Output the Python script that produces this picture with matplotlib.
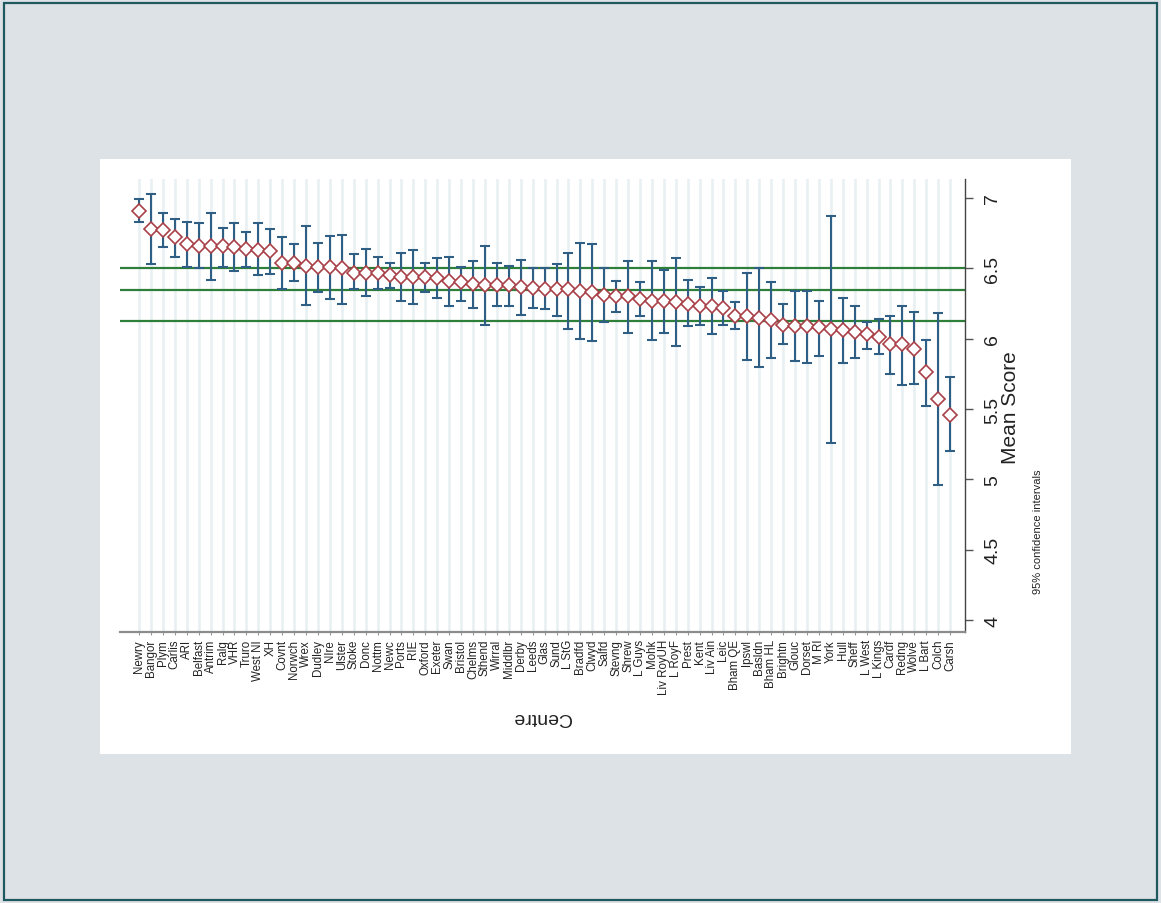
import numpy as np
import matplotlib
matplotlib.use("Agg")
import matplotlib.pyplot as plt
from matplotlib.patches import Rectangle

plt.rcParams['font.family'] = ['Liberation Sans', 'DejaVu Sans']

# centres, ordered by mean score
centres = ["Newry", "Bangor", "Plym", "Carlis", "ARI", "Belfast", "Antrim", "Ralg", "VHR", "Truro",
           "West NI", "XH", "Covnt", "Norwch", "Wrex", "Dudley", "NIre", "Ulster", "Stoke", "Donc",
           "Nottm", "Newc", "Ports", "RIE", "Oxford", "Exeter", "Swan", "Bristol", "Chelms", "Sthend",
           "Wirral", "Middlbr", "Derby", "Leeds", "Glas", "Sund", "L StG", "Bradfd", "Clwyd", "Salfd",
           "Stevng", "Shrew", "L Guys", "Mohk", "Liv RoyUH", "L RoyF", "Prest", "Kent", "Liv Ain", "Leic",
           "Bham QE", "Ipswl", "Basldn", "Bham HL", "Brightn", "Glouc", "Dorset", "M RI", "York", "Hull",
           "Sheff", "L West", "L Kings", "Cardf", "Redng", "Wolve", "L Bart", "Colch", "Carsh"]

mean_score = [6.91, 6.78, 6.77, 6.72, 6.67, 6.66, 6.66, 6.66, 6.65, 6.64,
              6.63, 6.62, 6.54, 6.54, 6.52, 6.51, 6.51, 6.50, 6.47, 6.47,
              6.47, 6.45, 6.44, 6.44, 6.44, 6.43, 6.41, 6.40, 6.39, 6.38,
              6.38, 6.38, 6.37, 6.36, 6.35, 6.35, 6.35, 6.34, 6.33, 6.31,
              6.30, 6.30, 6.28, 6.27, 6.27, 6.26, 6.25, 6.23, 6.23, 6.22,
              6.16, 6.16, 6.15, 6.13, 6.10, 6.09, 6.09, 6.08, 6.07, 6.06,
              6.05, 6.03, 6.01, 5.96, 5.96, 5.93, 5.76, 5.57, 5.46]

ci_low = [6.83, 6.53, 6.65, 6.58, 6.51, 6.50, 6.42, 6.51, 6.48, 6.51,
          6.45, 6.46, 6.35, 6.41, 6.24, 6.33, 6.28, 6.25, 6.35, 6.30,
          6.35, 6.36, 6.27, 6.25, 6.33, 6.29, 6.23, 6.27, 6.22, 6.10,
          6.23, 6.23, 6.17, 6.22, 6.21, 6.16, 6.07, 6.00, 5.98, 6.12,
          6.19, 6.04, 6.16, 5.99, 6.04, 5.95, 6.09, 6.10, 6.03, 6.10,
          6.07, 5.85, 5.80, 5.86, 5.96, 5.84, 5.83, 5.88, 5.26, 5.83,
          5.86, 5.93, 5.89, 5.75, 5.67, 5.68, 5.52, 4.96, 5.20]

ci_high = [6.99, 7.03, 6.89, 6.85, 6.83, 6.82, 6.89, 6.79, 6.82, 6.76,
           6.82, 6.78, 6.72, 6.67, 6.80, 6.68, 6.73, 6.74, 6.60, 6.64,
           6.58, 6.54, 6.61, 6.63, 6.54, 6.57, 6.58, 6.51, 6.55, 6.66,
           6.54, 6.52, 6.56, 6.50, 6.50, 6.53, 6.61, 6.68, 6.67, 6.50,
           6.41, 6.55, 6.40, 6.55, 6.49, 6.57, 6.42, 6.37, 6.43, 6.34,
           6.26, 6.47, 6.50, 6.40, 6.25, 6.34, 6.34, 6.27, 6.87, 6.29,
           6.23, 6.12, 6.14, 6.16, 6.23, 6.19, 5.99, 6.18, 5.73]

ref_lines = [6.50, 6.345, 6.125]
score_ticks = [4, 4.5, 5, 5.5, 6, 6.5, 7]
score_ticklabels = ["4", "4.5", "5", "5.5", "6", "6.5", "7"]

W, H = 1161, 904
fig = plt.figure(figsize=(W / 100, H / 100), dpi=100, facecolor="#dde2e6")

# outer frame and white graph panel
fig.patches.append(Rectangle((4 / W, 3 / H), 1153 / W, 897 / H, transform=fig.transFigure,
                             fill=False, edgecolor="#1f5960", lw=1.6, zorder=-2))
fig.patches.append(Rectangle((100 / W, 149 / H), 971 / W, 595 / H, transform=fig.transFigure,
                             facecolor="white", edgecolor="none", zorder=-2))

ax = fig.add_axes([120 / W, 271 / H, 845 / W, 453 / H])
ax.set_zorder(2)
ax.set_facecolor("white")
x = np.arange(len(centres))
means = np.array(mean_score)
lo = means - np.array(ci_low)
hi = np.array(ci_high) - means

for xi in x:
    ax.axvline(xi, color="#e8f0f3", lw=1.8, zorder=0)
for r in ref_lines:
    ax.axhline(r, color="#2e7f3a", lw=1.6, zorder=1)

ax.errorbar(x, means, yerr=[lo, hi], fmt="none", ecolor="#2f5f84", elinewidth=1.5,
            capsize=3.4, capthick=1.5, zorder=2)
ax.plot(x, means, ls="none", marker="D", ms=6.8, mfc="white", mec="#a84047", mew=1.2, zorder=3)

ax.set_xlim(-1.6, 69.25)
ax.set_ylim(3.915, 7.135)

ax.set_xticks(x)
ax.set_xticklabels(centres, rotation=90, fontsize=8.3, color="#222222", va="top", ha="center")
ax.tick_params(axis="x", length=2, color="#999999", pad=3)

ax.yaxis.tick_right()
ax.set_yticks(score_ticks)
ax.set_yticklabels(score_ticklabels, rotation=90, fontsize=14, color="#222222", va="center")
ax.tick_params(axis="y", length=6, width=1, color="#555555", pad=8)

for s in ["left", "top"]:
    ax.spines[s].set_visible(False)
ax.spines["bottom"].set_color("#8c8c8c")
ax.spines["bottom"].set_linewidth(1.6)
ax.spines["right"].set_color("#444444")
ax.spines["right"].set_linewidth(1.0)

fig.text(542 / W, 1 - 718 / H, "Centre", rotation=180, fontsize=14, color="#222222",
         ha="center", va="center")
fig.text(1010 / W, 1 - 408 / H, "Mean Score", rotation=90, fontsize=15, color="#222222",
         ha="center", va="center")
fig.text(1038 / W, 1 - 594 / H, "95% confidence intervals", rotation=90, fontsize=8,
         color="#222222", ha="center", va="bottom")

fig.savefig("out.png", dpi=100, facecolor=fig.get_facecolor())
